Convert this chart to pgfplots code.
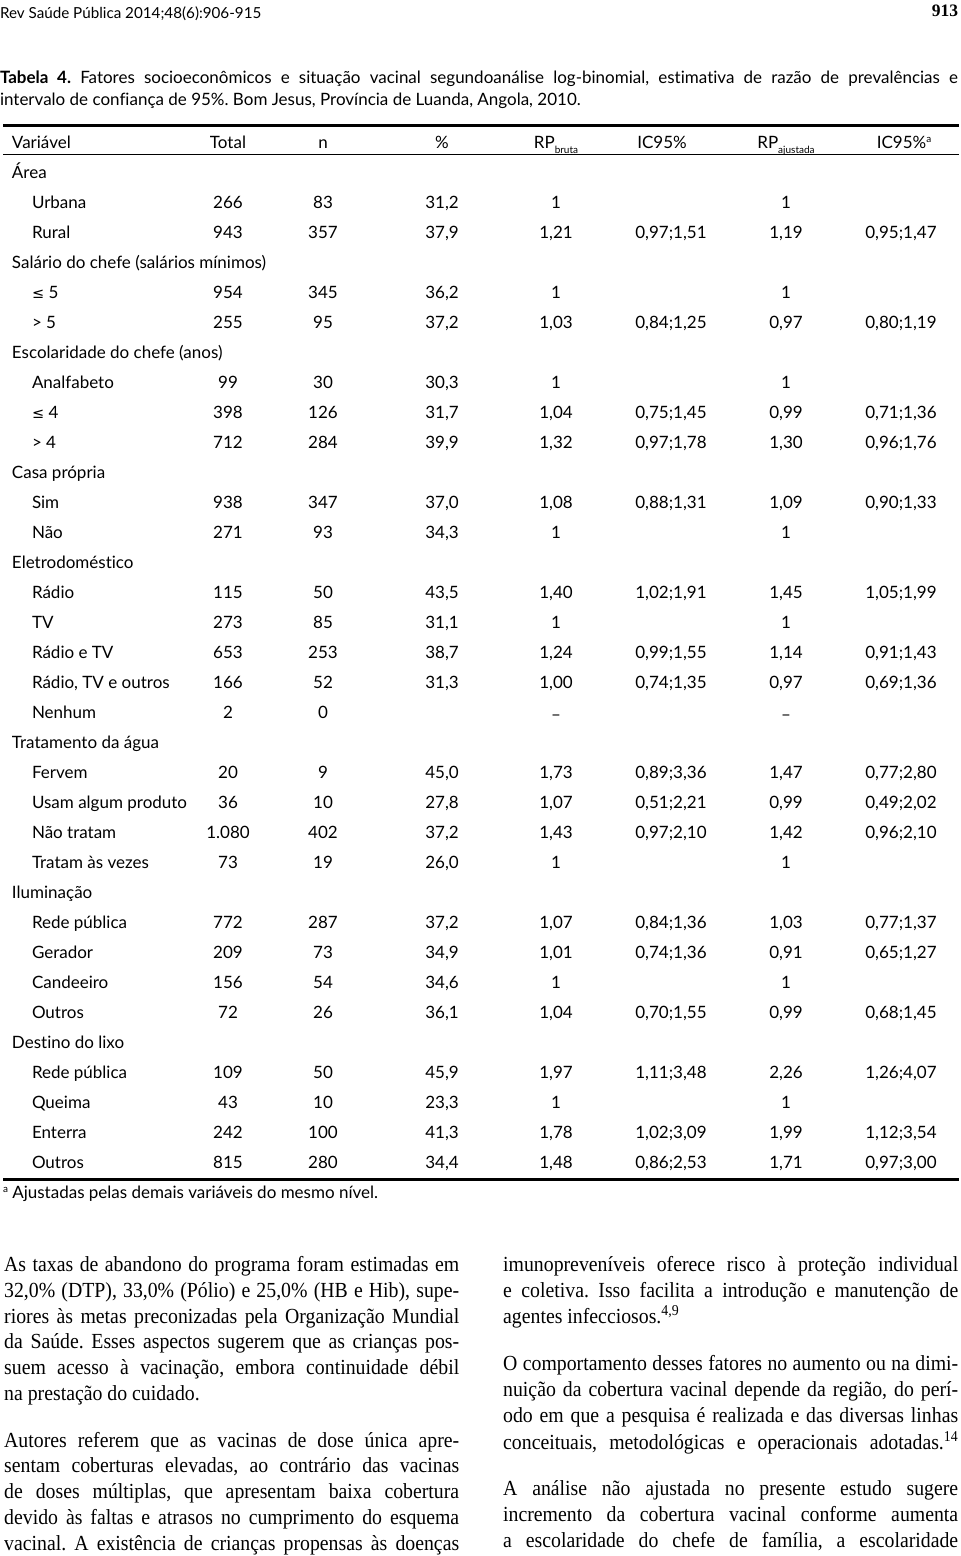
\documentclass[border=0pt]{standalone}
\usepackage{pgfplots}
\pgfplotsset{compat=1.18}
\usepackage{fontspec}
\setmainfont{Lato}
\newfontfamily\tabfont{Lato}[Ligatures=NoCommon]
\newfontfamily\bodyfont{Liberation Serif}[FakeStretch=0.92]
\newfontfamily\serif{Liberation Serif}
\newfontfamily\symfont{DejaVu Sans}
\frenchspacing

\newcommand\tsz{\fontsize{17}{20}\selectfont}
\newcommand\bsz{\fontsize{21.5}{26}\selectfont}
\newcommand\lesym{{\symfont\fontsize{14.5}{16}\selectfont ≤}}
\tikzset{tc/.style={inner sep=0pt, outer sep=0pt, font=\tabfont\tsz}}

% group heading
\newcommand\grp[2]{\node[tc, anchor=base west] at (axis cs:12,#1) {#2};}
% table row: y, label, Total, n, %, RP bruta, IC95%, RP ajustada, IC95%a
\newcommand\trow[9]{%
  \node[tc, anchor=base west] at (axis cs:32,#1) {#2};
  \node[tc, anchor=base] at (axis cs:228,#1) {#3};
  \node[tc, anchor=base] at (axis cs:323,#1) {#4};
  \node[tc, anchor=base] at (axis cs:442,#1) {#5};
  \node[tc, anchor=base] at (axis cs:556,#1) {#6};
  \node[tc, anchor=base] at (axis cs:671,#1) {#7};
  \node[tc, anchor=base] at (axis cs:786,#1) {#8};
  \node[tc, anchor=base] at (axis cs:901,#1) {#9};}
% justified and last lines of body text
\newcommand\jline[3]{\node[inner sep=0pt, anchor=base west, font=\bodyfont\bsz] at (axis cs:#1,#2) {\makebox[455pt][s]{#3}};}
\newcommand\lline[3]{\node[inner sep=0pt, anchor=base west, font=\bodyfont\bsz] at (axis cs:#1,#2) {#3};}

\begin{document}
\begin{tikzpicture}
\begin{axis}[
  width=960pt, height=1556pt, scale only axis,
  xmin=0, xmax=960, ymin=0, ymax=1556,
  y dir=reverse,
  hide axis, clip=false,
]
\path (rel axis cs:0,0) rectangle (rel axis cs:1,1);

% rules of the table
\addplot[black, line width=3pt] coordinates {(3,125.5) (959,125.5)};
\addplot[black, line width=1.5pt] coordinates {(3,154.5) (959,154.5)};
\addplot[black, line width=2.5pt] coordinates {(3,1179.5) (959,1179.5)};

% running head
\node[tc, anchor=base west, font=\tabfont\fontsize{15.2}{18}\selectfont] at (axis cs:0,18.3) {Rev Saúde Pública 2014;48(6):906-915};
\node[tc, anchor=base east, font=\serif\bfseries\fontsize{17.5}{20}\selectfont] at (axis cs:958,16.7) {913};

% caption
\node[tc, anchor=base west] at (axis cs:0,83.3) {\makebox[958pt][s]{\textbf{Tabela 4.} Fatores socioeconômicos e situação vacinal segundoanálise log-binomial, estimativa de razão de prevalências e}};
\node[tc, anchor=base west] at (axis cs:0,105.5) {intervalo de confiança de 95\%. Bom Jesus, Província de Luanda, Angola, 2010.};

% header
\node[tc, anchor=base west] at (axis cs:12,148.3) {Variável};
\node[tc, anchor=base] at (axis cs:228,148.3) {Total};
\node[tc, anchor=base] at (axis cs:323,148.3) {n};
\node[tc, anchor=base] at (axis cs:442,148.3) {\%};
\node[tc, anchor=base] at (axis cs:556,148.3) {RP\raisebox{-5pt}{\fontsize{10}{12}\selectfont bruta}};
\node[tc, anchor=base] at (axis cs:662,148.3) {IC95\%};
\node[tc, anchor=base] at (axis cs:786,148.3) {RP\raisebox{-5pt}{\fontsize{10}{12}\selectfont ajustada}};
\node[tc, anchor=base] at (axis cs:904,148.3) {IC95\%\raisebox{6pt}{\fontsize{10}{12}\selectfont a}};

% body
\grp{178.3}{Área}
\trow{208.3}{Urbana}{266}{83}{31,2}{1}{}{1}{}
\trow{238.3}{Rural}{943}{357}{37,9}{1,21}{0,97;1,51}{1,19}{0,95;1,47}
\grp{268.3}{Salário do chefe (salários mínimos)}
\trow{298.3}{\lesym\ 5}{954}{345}{36,2}{1}{}{1}{}
\trow{328.3}{> 5}{255}{95}{37,2}{1,03}{0,84;1,25}{0,97}{0,80;1,19}
\grp{358.3}{Escolaridade do chefe (anos)}
\trow{388.3}{Analfabeto}{99}{30}{30,3}{1}{}{1}{}
\trow{418.3}{\lesym\ 4}{398}{126}{31,7}{1,04}{0,75;1,45}{0,99}{0,71;1,36}
\trow{448.3}{> 4}{712}{284}{39,9}{1,32}{0,97;1,78}{1,30}{0,96;1,76}
\grp{478.3}{Casa própria}
\trow{508.3}{Sim}{938}{347}{37,0}{1,08}{0,88;1,31}{1,09}{0,90;1,33}
\trow{538.3}{Não}{271}{93}{34,3}{1}{}{1}{}
\grp{568.3}{Eletrodoméstico}
\trow{598.3}{Rádio}{115}{50}{43,5}{1,40}{1,02;1,91}{1,45}{1,05;1,99}
\trow{628.3}{TV}{273}{85}{31,1}{1}{}{1}{}
\trow{658.3}{Rádio e TV}{653}{253}{38,7}{1,24}{0,99;1,55}{1,14}{0,91;1,43}
\trow{688.3}{Rádio, TV e outros}{166}{52}{31,3}{1,00}{0,74;1,35}{0,97}{0,69;1,36}
\trow{718.3}{Nenhum}{2}{0}{}{\raisebox{-2pt}{–}}{}{\raisebox{-2pt}{–}}{}
\grp{748.3}{Tratamento da água}
\trow{778.3}{Fervem}{20}{9}{45,0}{1,73}{0,89;3,36}{1,47}{0,77;2,80}
\trow{808.3}{Usam algum produto}{36}{10}{27,8}{1,07}{0,51;2,21}{0,99}{0,49;2,02}
\trow{838.3}{Não tratam}{1.080}{402}{37,2}{1,43}{0,97;2,10}{1,42}{0,96;2,10}
\trow{868.3}{Tratam às vezes}{73}{19}{26,0}{1}{}{1}{}
\grp{898.3}{Iluminação}
\trow{928.3}{Rede pública}{772}{287}{37,2}{1,07}{0,84;1,36}{1,03}{0,77;1,37}
\trow{958.3}{Gerador}{209}{73}{34,9}{1,01}{0,74;1,36}{0,91}{0,65;1,27}
\trow{988.3}{Candeeiro}{156}{54}{34,6}{1}{}{1}{}
\trow{1018.3}{Outros}{72}{26}{36,1}{1,04}{0,70;1,55}{0,99}{0,68;1,45}
\grp{1048.3}{Destino do lixo}
\trow{1078.3}{Rede pública}{109}{50}{45,9}{1,97}{1,11;3,48}{2,26}{1,26;4,07}
\trow{1108.3}{Queima}{43}{10}{23,3}{1}{}{1}{}
\trow{1138.3}{Enterra}{242}{100}{41,3}{1,78}{1,02;3,09}{1,99}{1,12;3,54}
\trow{1168.3}{Outros}{815}{280}{34,4}{1,48}{0,86;2,53}{1,71}{0,97;3,00}

% footnote
\node[tc, anchor=base west] at (axis cs:3,1198.5) {\raisebox{6pt}{\fontsize{10}{12}\selectfont a} Ajustadas pelas demais variáveis do mesmo nível.};

% running text, left column
\jline{4}{1271.5}{As taxas de abandono do programa foram estimadas em}
\jline{4}{1297.3}{32,0\% (DTP), 33,0\% (Pólio) e 25,0\% (HB e Hib), supe-}
\jline{4}{1323.1}{riores às metas preconizadas pela Organização Mundial}
\jline{4}{1348.9}{da Saúde. Esses aspectos sugerem que as crianças pos-}
\jline{4}{1374.7}{suem acesso à vacinação, embora continuidade débil}
\lline{4}{1400.5}{na prestação do cuidado.}
\jline{4}{1447}{Autores referem que as vacinas de dose única apre-}
\jline{4}{1472.8}{sentam coberturas elevadas, ao contrário das vacinas}
\jline{4}{1498.6}{de doses múltiplas, que apresentam baixa cobertura}
\jline{4}{1524.4}{devido às faltas e atrasos no cumprimento do esquema}
\jline{4}{1550.2}{vacinal. A existência de crianças propensas às doenças}

% running text, right column
\jline{503}{1271.5}{imunopreveníveis oferece risco à proteção individual}
\jline{503}{1297.3}{e coletiva. Isso facilita a introdução e manutenção de}
\lline{503}{1323.1}{agentes infecciosos.\textsuperscript{4,9}}
\jline{503}{1370}{O comportamento desses fatores no aumento ou na dimi-}
\jline{503}{1396}{nuição da cobertura vacinal depende da região, do perí-}
\jline{503}{1422.5}{odo em que a pesquisa é realizada e das diversas linhas}
\jline{503}{1449}{conceituais, metodológicas e operacionais adotadas.\textsuperscript{14}}
\jline{503}{1495}{A análise não ajustada no presente estudo sugere}
\jline{503}{1521}{incremento da cobertura vacinal conforme aumenta}
\jline{503}{1547}{a escolaridade do chefe de família, a escolaridade}
\end{axis}
\end{tikzpicture}
\end{document}
